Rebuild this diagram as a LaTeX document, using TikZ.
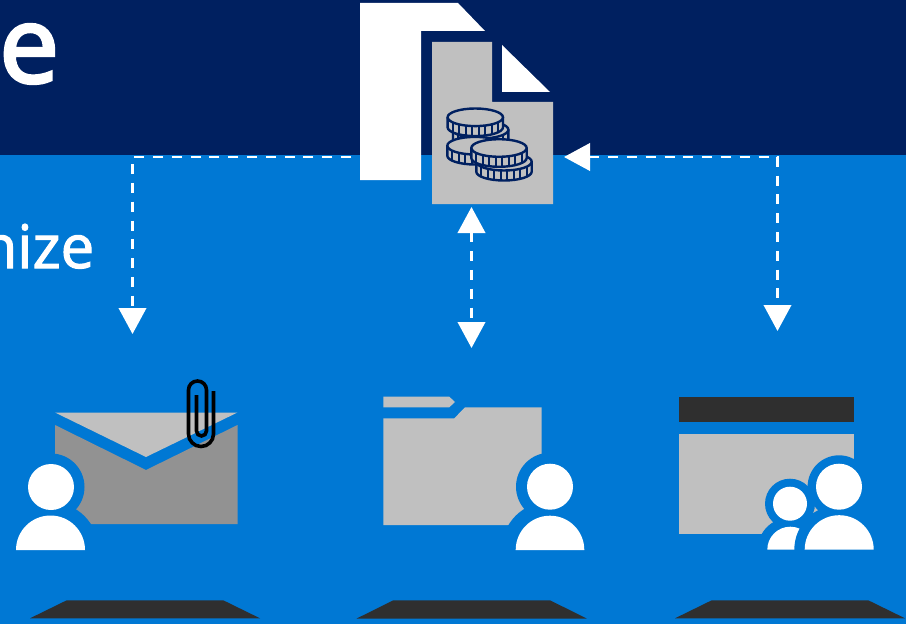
\documentclass[tikz,border=0pt]{standalone}
\usepackage{fontspec}
\setmainfont{Open Sans}
\newfontfamily\titlefont{Open Sans}[FakeBold=3]
\newfontfamily\subfont{Open Sans}[FakeBold=1.8]
\usetikzlibrary{arrows.meta,positioning,calc}
\definecolor{navyc}{HTML}{002060}
\definecolor{bluec}{HTML}{0078D4}
\definecolor{grayc}{HTML}{C0C0C0}
\definecolor{midc}{HTML}{929292}
\definecolor{darkc}{HTML}{2F2F2F}
\tikzset{
  tip/.tip={Triangle[length=19.5pt,width=20.5pt,fill=white]},
  link/.style={draw=white,line width=2.1pt,dash pattern=on 7.5pt off 6.6pt},
  head/.style={fill=white},
  halo/.style={fill=bluec},
  base/.style={fill=darkc},
  coin/.pic={
    \fill[grayc] (-27.7,0) -- (-27.7,10) arc (180:0:27.7 and 8.8) -- (27.7,0) arc (0:-180:27.7 and 8.8) -- cycle;
    \draw[navyc,line width=1.8pt,line join=round] (-27.7,0) -- (-27.7,10) arc (180:0:27.7 and 8.8) -- (27.7,0);
    \foreach \t in {-22.75,-16.25,-9.75,-3.25,3.25,9.75,16.25,22.75} {
      \draw[navyc,line width=1.5pt] (\t,{8.8*sin(acos(\t/27.7))}) -- (\t,{10+8.8*sin(acos(\t/27.7))});
    }
    \draw[navyc,line width=1.8pt] (0,0) ellipse (27.7 and 8.8);
  },
}
\begin{document}
\begin{tikzpicture}[x=0.75pt,y=-0.75pt]
  \useasboundingbox (0,0) rectangle (906,624);
  % fond
  \fill[bluec] (0,0) rectangle (906,624);
  \fill[navyc] (0,0) rectangle (906,155);
  \node[anchor=base west,inner sep=0pt,text=white,font=\fontsize{80}{80}\selectfont\titlefont] (title) at (-1,82.5) {e};
  \node[anchor=base east,inner sep=0pt,text=white,font=\fontsize{45}{45}\selectfont\subfont] (sub) at (94.5,268) {nize};
  % liens
  \coordinate (docl) at (351,157);
  \coordinate (docb) at (471.5,207);
  \coordinate (docr) at (564,157);
  \coordinate (mailt) at (132.5,334);
  \coordinate (foldt) at (471.5,348);
  \coordinate (wint) at (777.5,331);
  \draw[link,-{tip}] (docl) -| (mailt);
  \draw[link,{tip}-{tip}] (docb) -- (foldt);
  \draw[link,{tip}-{tip}] (docr) -| (wint);
  % document
  \fill[white] (360,3) -- (458,3) -- (485,31) -- (421,31) -- (421,180) -- (360,180) -- cycle;
  \fill[white] (502,45) -- (550,92) -- (502,92) -- cycle;
  \fill[grayc] (432,42) -- (492,42) -- (492,102) -- (553,102) -- (553,204) -- (432,204) -- cycle;
  \path (480.7,129.7) pic {coin};
  \path (475,145.7) pic {coin};
  \path (475.3,117.3) pic {coin};
  \path (504,161.7) pic {coin};
  \path (499,148) pic {coin};
  % courrier
  \fill[grayc] (55,412.5) -- (237.5,412.5) -- (146,457) -- cycle;
  \fill[midc] (55,425) -- (146,470) -- (237.5,425) -- (237.5,524) -- (55,524) -- cycle;
  \fill[halo] (51,487) circle (33.5);
  \fill[halo] (50.5,550) circle (48);
  \fill[head] (51,487) circle (23);
  \fill[head] (16,550) arc (180:360:34.5) -- cycle;
  \draw[black,line width=2.7pt] (213.5,391) -- (213.5,434) arc (0:180:12.5) -- (188.5,390) arc (180:360:9) -- (206.5,431) arc (0:180:5) -- (196.5,395);
  \fill[base] (30,618.3) -- (66.7,600.3) -- (223.3,600.3) -- (260,618.3) -- cycle;
  % dossier
  \fill[grayc] (383.3,396.7) -- (449.3,396.7) -- (455,402) -- (449.3,407.3) -- (383.3,407.3) -- cycle;
  \fill[grayc] (383.3,418.3) -- (454.3,418.3) -- (465,407.3) -- (541.7,407.3) -- (541.7,525) -- (383.3,525) -- cycle;
  \fill[halo] (550,486.7) circle (34);
  \fill[halo] (550,550) circle (48.5);
  \fill[head] (550,486.7) circle (23);
  \fill[head] (515.7,550) arc (180:360:34.3) -- cycle;
  \fill[base] (356.7,618.5) -- (393.3,600.3) -- (550,600.3) -- (586.7,618.5) -- cycle;
  % fenetre
  \fill[darkc] (679,397) rectangle (854,422);
  \fill[grayc] (679,434.3) rectangle (853.7,534);
  \fill[halo] (790,503.7) circle (25);
  \fill[halo] (790,550) circle (32.5);
  \fill[head] (767.3,549.7) arc (180:360:23) -- cycle;
  \fill[halo] (839,486.7) circle (31.4);
  \fill[halo] (839,549.7) circle (44.7);
  \fill[head] (790,503.7) circle (17);
  \fill[head] (839,486.7) circle (23);
  \fill[head] (804.7,549.7) arc (180:360:34.5) -- cycle;
  \fill[base] (675,618.3) -- (711.7,600.3) -- (868.3,600.3) -- (905,618.3) -- cycle;
\end{tikzpicture}
\end{document}
